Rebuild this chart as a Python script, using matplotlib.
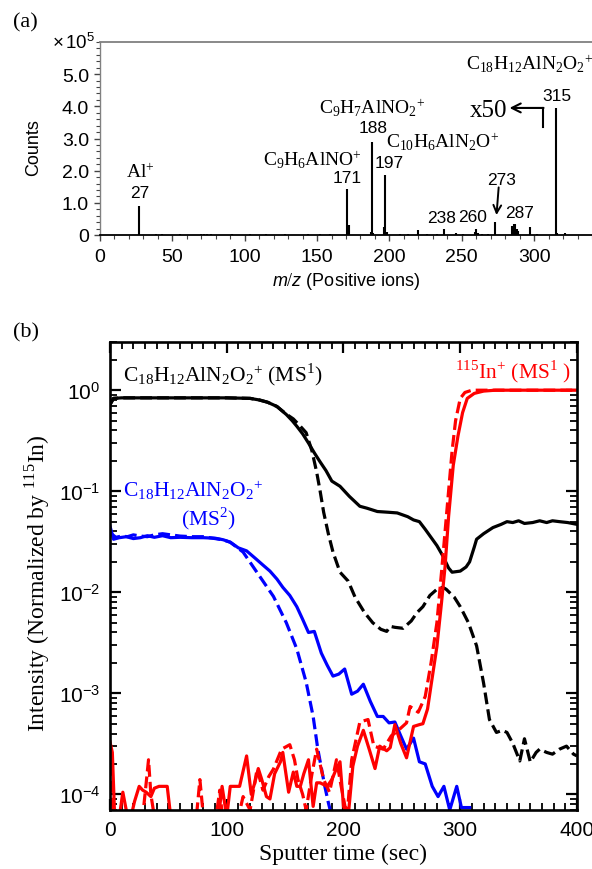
import numpy as np
import matplotlib
matplotlib.use("Agg")
import matplotlib.pyplot as plt
from matplotlib.ticker import MultipleLocator, LogLocator, NullFormatter

plt.rcParams['font.family'] = ['Liberation Sans', 'DejaVu Sans']
plt.rcParams['mathtext.fontset'] = 'custom'
plt.rcParams['mathtext.rm'] = 'Liberation Serif'
plt.rcParams['mathtext.it'] = 'Liberation Sans:italic'
plt.rcParams['mathtext.bf'] = 'Liberation Serif:bold'

# ---------------- (a) mass spectrum data (counts in units of 1e5) ----------------
peak_mz = [27, 39, 43, 55, 70, 72, 74, 77, 91, 104, 115, 128, 144, 152, 159,
           171, 172, 187, 188, 189, 196, 197, 198, 207, 213, 220, 226, 233, 238,
           246, 251, 259, 260, 261, 264, 268, 273, 285, 286, 287, 288, 289, 297,
           302, 315, 316, 321]
peak_counts = [0.90, 0.02, 0.02, 0.02, 0.03, 0.04, 0.03, 0.02, 0.02, 0.02, 0.025, 0.02, 0.02, 0.02, 0.02,
               1.42, 0.30, 0.08, 2.90, 0.06, 0.25, 1.85, 0.08, 0.04, 0.03, 0.15, 0.03, 0.03, 0.18,
               0.05, 0.03, 0.08, 0.20, 0.06, 0.03, 0.04, 0.40, 0.28, 0.33, 0.34, 0.20, 0.12, 0.25,
               0.03, 3.95, 0.05, 0.07]

# ---------------- (b) depth profile data ----------------
t_blk = [0, 3, 10, 20, 40, 60, 80, 100, 120, 128, 135, 143, 151, 156, 160, 165, 170, 175,
         180, 185, 190, 197, 205, 214, 220, 229, 238, 246, 255, 260, 265, 270, 280, 285,
         290, 293, 300, 305, 308, 312, 314, 320, 328, 335, 340, 345, 350, 355, 362, 368,
         374, 379, 385, 392, 400]
ms1_solid = [0.72, 0.83, 0.84, 0.84, 0.84, 0.84, 0.84, 0.84, 0.83, 0.80, 0.76, 0.69, 0.575,
             0.50, 0.44, 0.37, 0.30, 0.24, 0.195, 0.16, 0.126, 0.112, 0.089, 0.071, 0.068,
             0.063, 0.062, 0.061, 0.056, 0.052, 0.050, 0.042, 0.029, 0.023, 0.0174, 0.0158,
             0.0162, 0.0178, 0.020, 0.028, 0.0335, 0.038, 0.0437, 0.047, 0.050, 0.049, 0.051,
             0.048, 0.049, 0.051, 0.049, 0.051, 0.050, 0.049, 0.047]

t_blkd = [0, 3, 10, 20, 40, 60, 80, 100, 120, 128, 135, 143, 151, 157, 163, 168, 173, 177,
          180, 183, 187, 191, 197, 204, 210, 218, 225, 232, 237, 240, 244, 251, 258, 263,
          268, 274, 280, 285, 288, 295, 300, 307, 314, 320, 325, 331, 336, 340, 345, 351,
          355, 360, 365, 368, 374, 379, 385, 391, 397, 400]
ms1_dash = [0.72, 0.83, 0.84, 0.84, 0.84, 0.84, 0.84, 0.84, 0.83, 0.80, 0.76, 0.69, 0.58,
            0.52, 0.44, 0.38, 0.25, 0.155, 0.10, 0.062, 0.038, 0.025, 0.0158, 0.0129,
            0.0089, 0.0063, 0.0050, 0.0043, 0.0041, 0.0046, 0.0045, 0.0044, 0.0052, 0.0063,
            0.0072, 0.0093, 0.0107, 0.0112, 0.0107, 0.0089, 0.0072, 0.0050, 0.00295, 0.00126,
            0.00055, 0.00041, 0.00043, 0.00041, 0.00032, 0.000214, 0.000355, 0.000209,
            0.00026, 0.00028, 0.00026, 0.00025, 0.00028, 0.00030, 0.00025, 0.00024]

t_blue = [0, 3, 8, 14, 20, 26, 32, 38, 45, 52, 60, 70, 80, 90, 97, 103, 110, 117, 125, 131,
          137, 143, 148, 154, 160, 165, 170, 175, 181, 186, 191, 196, 201, 207, 212, 217,
          223, 229, 234, 239, 244, 249, 254, 260, 265, 270, 276, 281, 286, 291, 297, 301, 308]
ms2_solid = [0.045, 0.0335, 0.0347, 0.0355, 0.034, 0.0347, 0.0363, 0.035, 0.0363, 0.0347,
             0.035, 0.0347, 0.0347, 0.0343, 0.0331, 0.0313, 0.0275, 0.0257, 0.0214, 0.0186,
             0.0162, 0.0135, 0.0112, 0.0093, 0.0072, 0.0054, 0.0040, 0.0041, 0.0025, 0.0019,
             0.00148, 0.00155, 0.00174, 0.00098, 0.00105, 0.00123, 0.00083, 0.00059, 0.00059,
             0.00051, 0.00052, 0.00038, 0.00028, 0.00036, 0.00021, 0.00020, 0.00012, 0.000095,
             0.00012, 0.00007, 0.00012, 0.000074, 0.000074]

t_blued = [0, 5, 10, 15, 20, 26, 32, 38, 45, 52, 60, 70, 80, 90, 97, 103, 114, 128, 140,
           151, 160, 168, 174, 178, 184, 187, 190]
ms2_dash = [0.039, 0.035, 0.036, 0.0355, 0.037, 0.036, 0.0355, 0.037, 0.038, 0.037, 0.036,
            0.0355, 0.0355, 0.034, 0.033, 0.0313, 0.025, 0.0145, 0.0091, 0.0050, 0.00275,
            0.00129, 0.00059, 0.00028, 0.00012, 0.000083, 0.00006]

t_red = [0, 2, 4, 8, 11, 15, 18, 21, 25, 28, 31, 35, 38, 42, 46, 49, 52, 60, 70, 80, 90, 93,
         96, 100, 103, 106, 111, 117, 121, 124, 127, 130, 134, 137, 141, 146, 148, 153, 157,
         160, 163, 166, 170, 174, 177, 180, 186, 190, 194, 197, 200, 204, 208, 212, 217, 222,
         227, 231, 237, 240, 244, 249, 254, 260, 265, 268, 272, 275, 280, 284, 287, 290, 294,
         298, 302, 306, 312, 320, 330, 360, 400]
in_solid = [3.3e-4, 2.6e-4, 6e-5, 6e-5, 1.05e-4, 6e-5, 6e-5, 8.5e-5, 1.2e-4, 1.1e-4, 1.05e-4,
            9.5e-5, 1.15e-4, 1.2e-4, 1.2e-4, 1.2e-4, 6e-5, 5e-5, 5e-5, 5e-5, 5e-5, 6e-5,
            1.2e-4, 6e-5, 1.2e-4, 1.2e-4, 1.2e-4, 2.4e-4, 1.0e-4, 1.3e-4, 1.8e-4, 1.4e-4,
            9.5e-5, 9e-5, 1.6e-4, 2.1e-4, 2.6e-4, 1.05e-4, 1.66e-4, 1.2e-4, 1.2e-4, 1.6e-4,
            2.2e-4, 7.6e-5, 1.3e-4, 1.3e-4, 1.2e-4, 1.4e-4, 1.8e-4, 2.1e-4, 7.6e-5, 6e-5,
            1.9e-4, 3.0e-4, 4.3e-4, 2.8e-4, 1.8e-4, 3.0e-4, 2.7e-4, 2.9e-4, 4.9e-4, 3.2e-4,
            2.3e-4, 4.7e-4, 4.9e-4, 5.0e-4, 7.0e-4, 1.2e-3, 2.9e-3, 8e-3, 1.8e-2, 5.6e-2,
            0.18, 0.35, 0.60, 0.83, 0.93, 0.98, 1.0, 1.0, 1.0]

t_redd = [0, 3, 8, 15, 22, 28, 31, 33, 35, 38, 50, 65, 74, 77, 80, 90, 94, 97, 105, 110,
          114, 120, 126, 131, 136, 140, 147, 154, 158, 161, 165, 168, 173, 177, 183, 188,
          194, 198, 203, 207, 214, 221, 226, 234, 241, 246, 254, 257, 264, 270, 275, 280,
          284, 287, 290, 293, 296, 300, 304, 310, 340, 400]
in_dash = [2.0e-4, 6e-5, 5e-5, 5e-5, 5e-5, 6e-5, 1.3e-4, 2.2e-4, 1.0e-4, 6e-5, 5e-5, 5e-5,
           6e-5, 1.4e-4, 6e-5, 5e-5, 1.1e-4, 5e-5, 5e-5, 6e-5, 9.5e-5, 7e-5, 1.78e-4, 1.1e-4,
           1.5e-4, 1.78e-4, 2.8e-4, 3.1e-4, 2.2e-4, 1.4e-4, 1.0e-4, 7e-5, 1.6e-4, 2.8e-4,
           1.4e-4, 1.05e-4, 2.2e-4, 1.2e-4, 6e-5, 2.2e-4, 5.2e-4, 5.5e-4, 3.0e-4, 2.8e-4,
           3.8e-4, 4.2e-4, 5.1e-4, 7.4e-4, 6.5e-4, 9.3e-4, 2.0e-3, 5e-3, 1.6e-2, 4e-2, 0.10,
           0.25, 0.50, 0.83, 0.95, 1.0, 1.0, 1.0]

W, H = 592, 870
fig = plt.figure(figsize=(W / 100, H / 100), dpi=100)

# ================= (a) =================
ax1 = fig.add_axes([100 / W, 1 - 236 / H, 492 / W, 193 / H])
ax1.vlines(peak_mz, 0, peak_counts, colors='black', lw=1.5)
ax1.set_xlim(0, 340)
ax1.set_ylim(0, 6.0)
ax1.set_yticks([0, 1, 2, 3, 4, 5])
ax1.set_yticklabels(['0', '1.0', '2.0', '3.0', '4.0', '5.0'])
ax1.set_xticks([0, 50, 100, 150, 200, 250, 300])
ax1.xaxis.set_minor_locator(MultipleLocator(10))
ax1.yaxis.set_minor_locator(MultipleLocator(0.2))
ax1.spines['right'].set_visible(False)
ax1.spines['top'].set_color('#808080')
ax1.spines['top'].set_linewidth(1.3)
ax1.spines['left'].set_color('#808080')
ax1.spines['left'].set_linewidth(1.0)
ax1.spines['bottom'].set_color('black')
ax1.spines['bottom'].set_linewidth(1.3)
ax1.tick_params(axis='both', which='major', direction='out', length=4, width=1.0,
                color='#444444', labelsize=14, pad=4)
ax1.tick_params(axis='both', which='minor', direction='out', length=3, width=0.8,
                color='#444444')
ax1.tick_params(axis='x', which='major', pad=5)
ax1.set_ylabel('Counts', fontsize=13)
ax1.yaxis.set_label_coords(-0.118, 0.46)
ax1.set_xlabel(r'$m/z$ (Positive ions)', fontsize=13, labelpad=4)
ax1.text(-0.01, 1.0, r'$\mathdefault{\times\,10^{5}}$', transform=ax1.transAxes,
         ha='right', va='center', fontsize=13.5)

serif = ['Liberation Serif', 'DejaVu Serif']
ion_fs = 14
num_fs = 12.5
ax1.text(27.6, 1.98, r'$\mathrm{Al^{+}}$', ha='center', va='center', fontsize=ion_fs)
ax1.text(27.6, 1.33, '27', ha='center', va='center', fontsize=num_fs)
ax1.text(147, 2.35, r'$\mathrm{C_{9}H_{6}AlNO^{+}}$', ha='center', va='center', fontsize=ion_fs)
ax1.text(170.6, 1.79, '171', ha='center', va='center', fontsize=num_fs)
ax1.text(188, 3.98, r'$\mathrm{C_{9}H_{7}AlNO_{2}{}^{+}}$', ha='center', va='center', fontsize=ion_fs)
ax1.text(188.5, 3.33, '188', ha='center', va='center', fontsize=num_fs)
ax1.text(237, 2.90, r'$\mathrm{C_{10}H_{6}AlN_{2}O^{+}}$', ha='center', va='center', fontsize=ion_fs)
ax1.text(199.6, 2.25, '197', ha='center', va='center', fontsize=num_fs)
ax1.text(297, 5.34, r'$\mathrm{C_{18}H_{12}AlN_{2}O_{2}{}^{+}}$', ha='center', va='center', fontsize=ion_fs)
ax1.text(315.6, 4.35, '315', ha='center', va='center', fontsize=num_fs)
ax1.text(268.6, 3.89, 'x50', ha='center', va='center', fontsize=18, family=serif)
ax1.plot([306, 306], [3.36, 3.95], color='black', lw=1.5)
ax1.annotate('', xy=(283, 3.95), xytext=(306.5, 3.95),
             arrowprops=dict(arrowstyle='->', lw=1.5, color='black',
                             shrinkA=0, shrinkB=0, mutation_scale=16))
ax1.text(277.5, 1.73, '273', ha='center', va='center', fontsize=num_fs)
ax1.annotate('', xy=(274, 0.62), xytext=(275.5, 1.48),
             arrowprops=dict(arrowstyle='->', lw=1.4, color='black',
                             shrinkA=0, shrinkB=0, mutation_scale=14))
ax1.text(236, 0.55, '238', ha='center', va='center', fontsize=num_fs)
ax1.text(257.6, 0.58, '260', ha='center', va='center', fontsize=num_fs)
ax1.text(290, 0.70, '287', ha='center', va='center', fontsize=num_fs)

fig.text(13 / W, 1 - 23 / H, '(a)', fontsize=16, family=serif, ha='left', va='center')
fig.text(13 / W, 1 - 333 / H, '(b)', fontsize=16, family=serif, ha='left', va='center')

# ================= (b) =================
ax2 = fig.add_axes([110 / W, 1 - 811 / H, 467 / W, 468 / H])
lw = 2.3
ax2.plot(t_blk, ms1_solid, color='black', lw=lw)
ax2.plot(t_blkd, ms1_dash, color='black', lw=lw, ls='--')
ax2.plot(t_blue, ms2_solid, color='#0000ff', lw=lw)
ax2.plot(t_blued, ms2_dash, color='#0000ff', lw=lw, ls='--')
ax2.plot(t_red, in_solid, color='#ff0000', lw=lw)
ax2.plot(t_redd, in_dash, color='#ff0000', lw=lw, ls='--')
ax2.set_yscale('log')
ax2.set_xlim(0, 400)
ax2.set_ylim(7e-5, 3)
ax2.set_xticks([0, 100, 200, 300, 400])
ax2.xaxis.set_minor_locator(MultipleLocator(10))
ax2.yaxis.set_major_locator(LogLocator(base=10, numticks=20))
ax2.yaxis.set_minor_locator(LogLocator(base=10, subs=np.arange(2, 10), numticks=20))
ax2.yaxis.set_minor_formatter(NullFormatter())
for s in ax2.spines.values():
    s.set_linewidth(1.9)
ax2.tick_params(axis='both', which='major', direction='in', length=8, width=1.6,
                top=True, right=True, labelsize=15, pad=7)
ax2.tick_params(axis='both', which='minor', direction='in', length=5, width=1.3,
                top=True, right=True)
ax2.set_xlabel('Sputter time (sec)', fontsize=17, family=serif, labelpad=3)
ax2.set_ylabel(r'Intensity (Normalized by $^{115}$In)', fontsize=17, family=serif)
ax2.yaxis.set_label_coords(-0.124, 0.487)

lab_fs = 15.5
ax2.text(400 * (123 - 110) / 467, 1.45, r'$\mathrm{C_{18}H_{12}AlN_{2}O_{2}{}^{+}}$ (MS$^{1}$)',
         color='black', fontsize=lab_fs, family=serif, ha='left', va='center')
ax2.text(400 * (455 - 110) / 467, 1.55, r'$^{115}$In$^{+}$ (MS$^{1}$ )', color='#ff0000',
         fontsize=lab_fs, family=serif, ha='left', va='center')
ax2.text(400 * (123 - 110) / 467, 0.105, r'$\mathrm{C_{18}H_{12}AlN_{2}O_{2}{}^{+}}$',
         color='#0000ff', fontsize=lab_fs, family=serif, ha='left', va='center')
ax2.text(400 * (208 - 110) / 467, 0.055, r'(MS$^{2}$)', color='#0000ff',
         fontsize=lab_fs, family=serif, ha='center', va='center')

fig.savefig('out.png', dpi=100)
